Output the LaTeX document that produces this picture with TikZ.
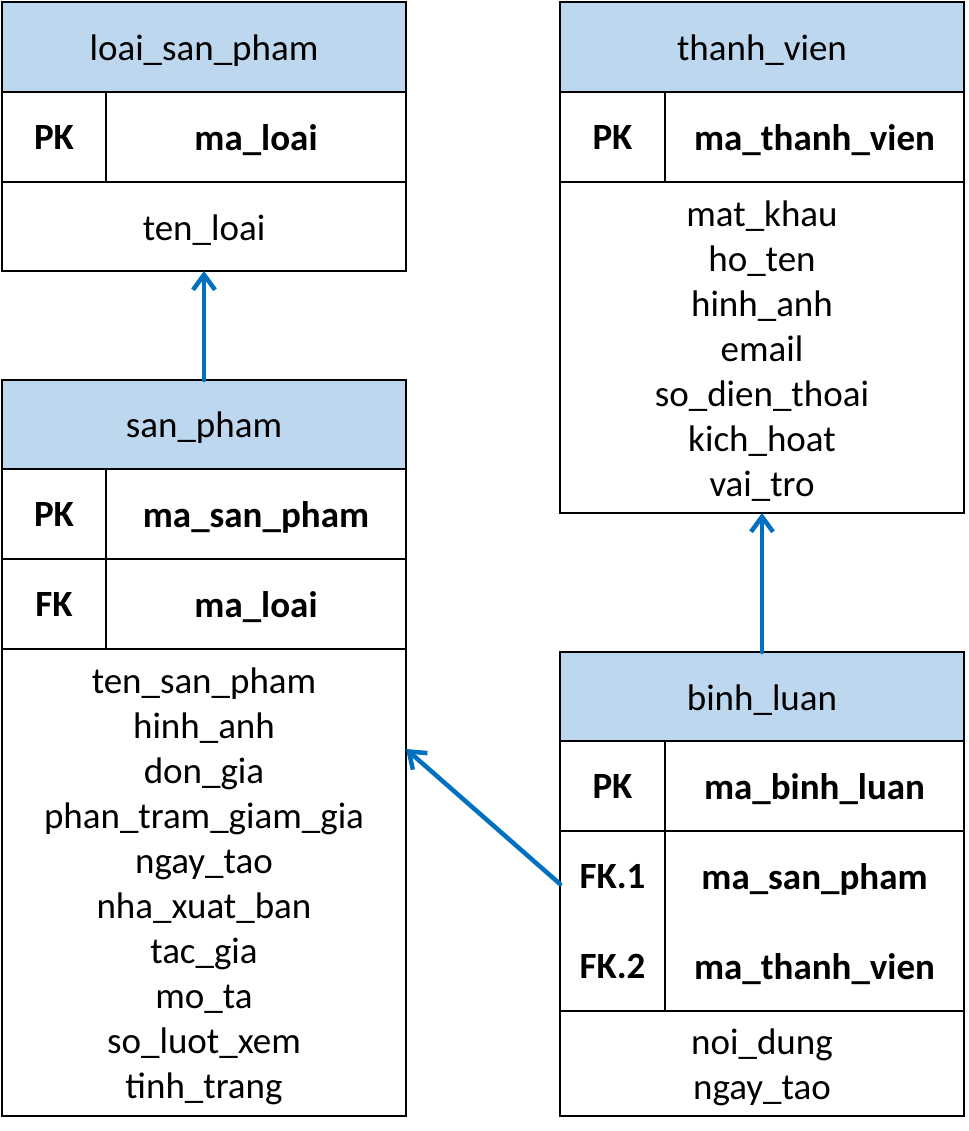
\documentclass[tikz,border=0pt]{standalone}
\usepackage{fontspec}
\setmainfont{Carlito}
\usetikzlibrary{arrows.meta}
\definecolor{hdr}{HTML}{BDD7EE}
\definecolor{arr}{HTML}{0070C0}
\newcommand{\dph}{\vphantom{\_}}
\begin{document}
\begin{tikzpicture}[x=1pt,y=-1pt,
  cell/.style={draw=black, line width=2pt, anchor=north west, inner sep=0pt, outer sep=0pt,
    label={[txt]center:#1}},
  txt/.style={align=center, inner sep=0pt, yshift=-3.5pt, font=\fontsize{37}{45}\selectfont},
  btxt/.style={txt, font=\fontsize{37}{45}\selectfont\bfseries, execute at begin node={\dph}},
  dtxt/.style={txt, font=\fontsize{37}{90}\selectfont\bfseries},
  hdrcell/.style={cell=#1, fill=hdr},
  keyc/.style={draw=black, line width=2pt, anchor=north west, inner sep=0pt, outer sep=0pt,
    label={[btxt]center:#1}},
  keyd/.style={draw=black, line width=2pt, anchor=north west, inner sep=0pt, outer sep=0pt,
    label={[dtxt]center:#1}},
  conn/.style={draw=arr, line width=4.5pt, line cap=round, line join=round, -{Straight Barb[length=15pt,width=22pt,line width=4.5pt]}}]
\useasboundingbox (0,0) rectangle (968,1131);
% loai_san_pham
\node[hdrcell={loai\_san\_pham}, minimum width=404, minimum height=90] (loaiH) at (2,2) {};
\node[keyc={PK}, minimum width=104, minimum height=90] (loaiPK) at (2,92) {};
\node[keyc={ma\_loai}, minimum width=300, minimum height=90] (loaiPKn) at (106,92) {};
\node[cell={ten\_loai}, minimum width=404, minimum height=89] (loaiA) at (2,182) {};
% thanh_vien
\node[hdrcell={thanh\_vien}, minimum width=404, minimum height=90] (tvH) at (560,2) {};
\node[keyc={PK}, minimum width=105, minimum height=90] (tvPK) at (560,92) {};
\node[keyc={ma\_thanh\_vien}, minimum width=299, minimum height=90] (tvPKn) at (665,92) {};
\node[cell={mat\_khau\\ho\_ten\\hinh\_anh\\email\\so\_dien\_thoai\\kich\_hoat\\vai\_tro}, minimum width=404, minimum height=331] (tvA) at (560,182) {};
% san_pham
\node[hdrcell={san\_pham}, minimum width=404, minimum height=89] (spH) at (2,380) {};
\node[keyc={PK}, minimum width=104, minimum height=90] (spPK) at (2,469) {};
\node[keyc={ma\_san\_pham}, minimum width=300, minimum height=90] (spPKn) at (106,469) {};
\node[keyc={FK}, minimum width=104, minimum height=90] (spFK) at (2,559) {};
\node[keyc={ma\_loai}, minimum width=300, minimum height=90] (spFKn) at (106,559) {};
\node[cell={ten\_san\_pham\\hinh\_anh\\don\_gia\\phan\_tram\_giam\_gia\\ngay\_tao\\nha\_xuat\_ban\\tac\_gia\\mo\_ta\\so\_luot\_xem\\tinh\_trang}, minimum width=404, minimum height=467] (spA) at (2,649) {};
% binh_luan
\node[hdrcell={binh\_luan}, minimum width=404, minimum height=89] (blH) at (560,652) {};
\node[keyc={PK}, minimum width=105, minimum height=90] (blPK) at (560,741) {};
\node[keyc={ma\_binh\_luan}, minimum width=299, minimum height=90] (blPKn) at (665,741) {};
\node[keyd={FK.1\dph\\FK.2\dph}, minimum width=105, minimum height=180] (blFK) at (560,831) {};
\node[keyd={ma\_san\_pham\\ma\_thanh\_vien}, minimum width=299, minimum height=180] (blFKn) at (665,831) {};
\node[cell={noi\_dung\\ngay\_tao}, minimum width=404, minimum height=105] (blA) at (560,1011) {};
% connectors
\draw[conn] (spH.north) -- (loaiA.south);
\draw[conn] (blH.north) -- (tvA.south);
\draw[conn] ([yshift=-53pt]blFK.north west) -- ([yshift=-100pt]spA.north east);
\end{tikzpicture}
\end{document}
